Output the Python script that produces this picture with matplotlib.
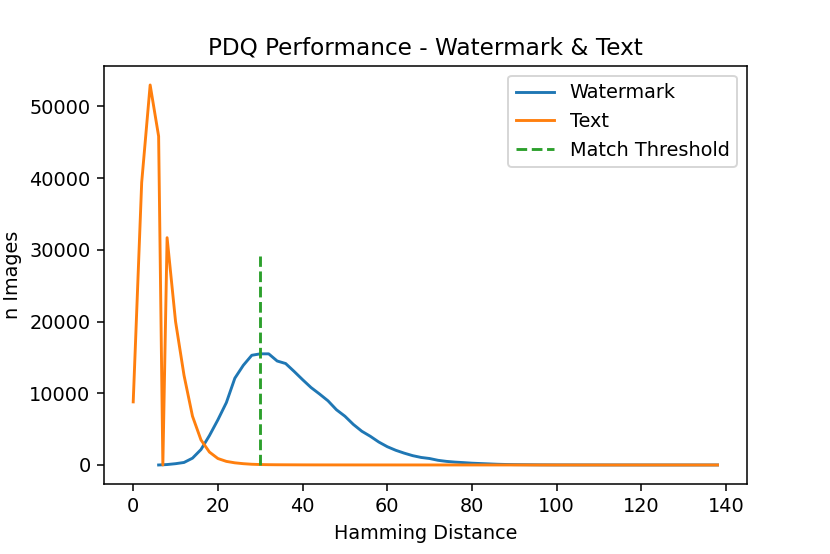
import matplotlib
matplotlib.use('Agg')
import matplotlib.pyplot as plt
import numpy as np

# 汉明距离 - 图片数量
水印距离 = np.arange(6, 140, 2)
水印数量 = [0, 60, 180, 350, 950, 2150, 4100, 6300, 8700, 12100,
            13900, 15300, 15500, 15500, 14500, 14150, 13050, 11900, 10800, 9900,
            8950, 7700, 6800, 5650, 4700, 4000, 3200, 2550, 2050, 1650,
            1300, 1050, 900, 650, 500, 400, 330, 250, 200, 150,
            100, 70, 50, 40, 30, 20, 15, 10, 10, 8,
            6, 5, 4, 3, 3, 2, 2, 1, 1, 1,
            1, 0, 0, 0, 0, 0, 0]

文字距离 = [0, 2, 4, 6, 7, 8] + list(range(10, 140, 2))
文字数量 = [8800, 39400, 53000, 45850, 0, 31700,
            20000, 12500, 6800, 3500, 1800, 900, 500, 300, 180, 100,
            60, 40, 30, 25, 20, 15, 12, 10, 9, 8,
            7, 6, 5, 5, 4, 4, 3, 3, 3, 2,
            2, 2, 2, 1, 1, 1, 1, 1, 1, 1,
            1, 1, 0, 0, 0, 0, 0, 0, 0, 0,
            0, 0, 0, 0, 0, 0, 0, 0, 0, 0,
            0, 0, 0, 0, 0]

阈值 = 30
阈值高度 = 29200

fig, ax = plt.subplots(figsize=(830 / 138.4, 554 / 138.4), dpi=138.4)
fig.subplots_adjust(left=0.1253, right=0.8997, bottom=0.1264, top=0.8809)
ax.plot(水印距离, 水印数量, label='Watermark')
ax.plot(文字距离, 文字数量, label='Text')
ax.vlines(阈值, 0, 阈值高度, colors='tab:green', linestyles='dashed', label='Match Threshold')
ax.set_title('PDQ Performance - Watermark & Text')
ax.set_xlabel('Hamming Distance')
ax.set_ylabel('n Images')
ax.legend(loc='upper right')
fig.savefig('out.png', dpi=138.4)
